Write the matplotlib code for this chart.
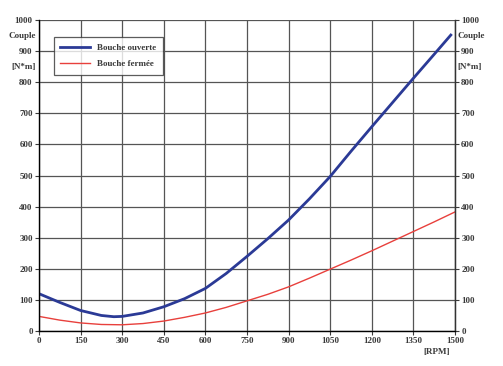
import numpy as np
import matplotlib.pyplot as plt

###############################################
########### [Datos] ###########################
###############################################
rpm_ouverte = [0, 75, 150, 225, 270, 300, 375, 450, 525, 600, 675, 750, 825,
               900, 975, 1050, 1125, 1200, 1275, 1350, 1425, 1485]
couple_ouverte = [120, 92, 66, 50, 46, 47, 58, 78, 104, 137, 185, 240, 297,
                  357, 425, 497, 578, 657, 735, 813, 890, 952]

rpm_fermee = [0, 75, 150, 225, 300, 375, 450, 525, 600, 675, 750, 825, 900,
              975, 1050, 1125, 1200, 1275, 1350, 1425, 1500]
couple_fermee = [47, 35, 26, 21, 20, 24, 32, 44, 58, 76, 97, 118, 142,
                 170, 199, 228, 258, 289, 320, 351, 383]

x_ticks = [0, 150, 300, 450, 600, 750, 900, 1050, 1200, 1350, 1500]
y_ticks = [0, 100, 200, 300, 400, 500, 600, 700, 800, 900, 1000]

###############################################
########### [Plot] ############################
###############################################
plt.rcParams['font.family'] = ['Liberation Serif', 'DejaVu Serif']
txt_col = '#3a3a3a'

fig = plt.figure(figsize=(5.03, 3.66), dpi=100)
ax = fig.add_axes([0.0775, 0.0956, 0.827, 0.8494])

ax.plot(rpm_ouverte, couple_ouverte, color='#2b3a96', lw=2.0, label='Bouche ouverte')
ax.plot(rpm_fermee, couple_fermee, color='#e8403c', lw=1.0, label='Bouche fermée')

ax.set_xlim(0, 1500)
ax.set_ylim(0, 1000)
ax.set_xticks(x_ticks)
ax.set_yticks(y_ticks)
ax.grid(True, color='#555555', lw=0.9)
ax.set_axisbelow(True)

ax.tick_params(axis='both', labelsize=6.5, colors=txt_col, length=3, width=0.8,
               pad=1.5)
for lab in ax.get_xticklabels() + ax.get_yticklabels():
    lab.set_fontweight('bold')

ax.spines['top'].set_visible(False)
for s in ['left', 'right', 'bottom']:
    ax.spines[s].set_color('#333333')
    ax.spines[s].set_linewidth(1.0)

# eje derecho con las mismas etiquetas
ax2 = ax.twinx()
ax2.set_ylim(0, 1000)
ax2.set_yticks(y_ticks)
ax2.tick_params(axis='y', labelsize=6.5, colors=txt_col, length=3, width=0.8,
                pad=1.5)
for lab in ax2.get_yticklabels():
    lab.set_fontweight('bold')
ax2.spines['top'].set_visible(False)
ax2.spines['right'].set_color('#333333')

# etiquetas de unidades
for xx, ha in [(-0.008, 'right'), (1.006, 'left')]:
    ax.text(xx, 950, 'Couple', transform=ax.get_yaxis_transform(), ha=ha,
            va='center', fontsize=6.5, fontweight='bold', color=txt_col)
    ax.text(xx, 850, '[N*m]', transform=ax.get_yaxis_transform(), ha=ha,
            va='center', fontsize=6.5, fontweight='bold', color=txt_col)
ax.text(0.955, -0.055, '[RPM]', transform=ax.transAxes, ha='center', va='top',
        fontsize=6.5, fontweight='bold', color=txt_col)

leg = ax.legend(loc='upper left', bbox_to_anchor=(0.036, 0.945), fontsize=6.5,
                frameon=True, fancybox=False, edgecolor='#333333',
                handlelength=3.3, borderpad=0.7, labelspacing=0.9,
                borderaxespad=0)
leg.get_frame().set_linewidth(0.9)
for t in leg.get_texts():
    t.set_fontweight('bold')
    t.set_color(txt_col)

fig.savefig('out.png', dpi=100)
